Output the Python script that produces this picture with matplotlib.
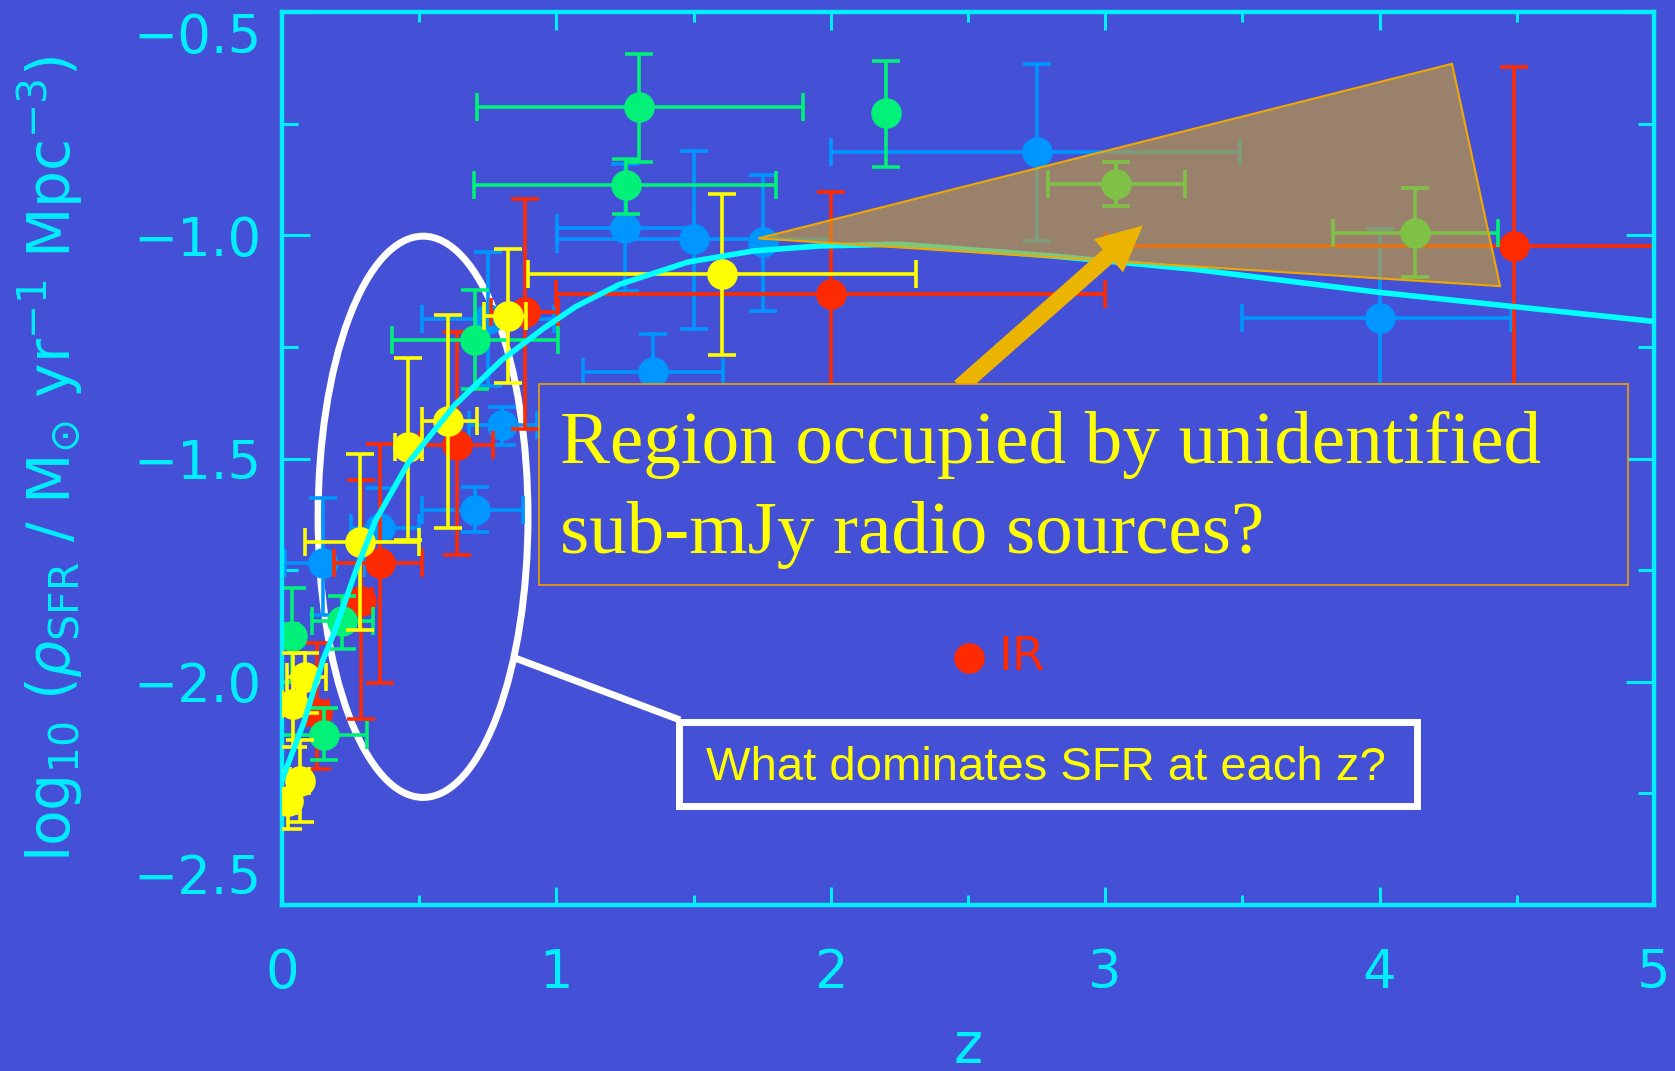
import matplotlib
matplotlib.use('Agg')
import matplotlib.pyplot as plt
from matplotlib.patches import Polygon, Ellipse, Rectangle, FancyArrowPatch, ArrowStyle
from matplotlib.lines import Line2D
import numpy as np

plt.rcParams['mathtext.fontset'] = 'dejavusans'

BG = '#4450D6'
AXC = '#00EEFF'
CURVE_C = '#00FFFF'
RED = '#FF2A00'
GREEN = '#00F078'
BLUE = '#0096FF'
YELLOW = '#FFFF00'

# ---------------- data ----------------
red_z = [0.126, 0.288, 0.357, 0.637, 0.886, 2.000, 4.490]
red_y = [-2.070, -1.820, -1.734, -1.469, -1.173, -1.132, -1.025]
red_zlo = [0.086, 0.248, 0.190, 0.503, 0.760, 1.000, 3.000]
red_zhi = [0.166, 0.328, 0.510, 0.770, 1.006, 3.000, 5.980]
red_ylo = [-2.196, -2.084, -2.002, -1.717, -1.435, -1.360, -1.430]
red_yhi = [-1.913, -1.548, -1.467, -1.217, -0.918, -0.904, -0.623]

green_z = [0.035, 0.152, 0.218, 0.703, 1.254, 1.300, 2.200, 3.040, 4.130]
green_y = [-1.898, -2.120, -1.865, -1.234, -0.888, -0.713, -0.727, -0.886, -0.994]
green_zlo = [0.010, 0.000, 0.108, 0.402, 0.700, 0.710, 2.200, 2.790, 3.830]
green_zhi = [0.060, 0.310, 0.330, 1.005, 1.800, 1.900, 2.200, 3.290, 4.430]
green_ylo = [-2.000, -2.176, -1.926, -1.344, -0.953, -0.835, -0.848, -0.935, -1.094]
green_yhi = [-1.789, -2.058, -1.808, -1.123, -0.830, -0.594, -0.609, -0.836, -0.895]

blue_z = [0.150, 0.357, 0.703, 0.752, 0.800, 1.250, 1.353, 1.500, 1.754, 2.750, 4.000]
blue_y = [-1.735, -1.656, -1.615, -1.188, -1.425, -0.983, -1.307, -1.009, -1.016, -0.8125, -1.185]
blue_zlo = [0.010, 0.250, 0.509, 0.509, 0.680, 1.003, 1.098, 1.003, 1.754, 2.000, 3.500]
blue_zhi = [0.300, 0.500, 0.878, 0.990, 0.930, 1.500, 1.606, 2.000, 1.754, 3.490, 4.480]
blue_ylo = [-1.850, -1.720, -1.665, -1.337, -1.470, -1.124, -1.500, -1.210, -1.169, -1.013, -1.500]
blue_yhi = [-1.589, -1.567, -1.563, -1.038, -1.384, -0.840, -1.221, -0.812, -0.866, -0.616, -0.987]

yellow_z = [0.023, 0.066, 0.040, 0.085, 0.284, 0.460, 0.606, 0.825, 1.602]
yellow_y = [-2.266, -2.222, -2.050, -1.990, -1.686, -1.474, -1.417, -1.181, -1.087]
yellow_zlo = [0.000, 0.030, 0.000, 0.020, 0.084, 0.410, 0.509, 0.737, 0.898]
yellow_zhi = [0.050, 0.100, 0.080, 0.160, 0.500, 0.510, 0.709, 0.888, 2.310]
yellow_ylo = [-2.330, -2.315, -2.147, -2.070, -1.885, -1.682, -1.655, -1.330, -1.268]
yellow_yhi = [-2.200, -2.130, -1.935, -1.935, -1.491, -1.275, -1.179, -1.031, -0.908]

curve_z = [0.00, 0.08, 0.15, 0.19, 0.27, 0.34, 0.46, 0.63, 0.80, 0.95, 1.07,
           1.23, 1.48, 1.72, 1.96, 2.25, 2.80, 3.32, 4.00, 5.00]
curve_y = [-2.22, -2.09, -1.95, -1.89, -1.75, -1.64, -1.51, -1.38, -1.28, -1.21, -1.16,
           -1.11, -1.06, -1.035, -1.024, -1.020, -1.046, -1.076, -1.128, -1.193]

region_z = [1.736, 4.264, 4.439]
region_y = [-1.007, -0.616, -1.114]

ir_legend_z = [2.502]
ir_legend_y = [-1.946]

xtick_vals = [0, 1, 2, 3, 4, 5]
xtick_labels = ['0', '1', '2', '3', '4', '5']
ytick_vals = [-2.5, -2.0, -1.5, -1.0, -0.5]
ytick_labels = ['\u22122.5', '\u22122.0', '\u22121.5', '\u22121.0', '\u22120.5']

# ---------------- figure ----------------
W, H = 1675, 1071
fig = plt.figure(figsize=(W / 100, H / 100), dpi=100, facecolor=BG)
ax = fig.add_axes([282 / W, 1 - 905 / H, (1654 - 282) / W, (905 - 12) / H])
ax.set_facecolor(BG)
ax.set_xlim(0, 5)
ax.set_ylim(-2.5, -0.5)

for s in ax.spines.values():
    s.set_color(AXC)
    s.set_linewidth(3.2)

ax.set_xticks(xtick_vals, xtick_labels)
ax.set_yticks(ytick_vals, ytick_labels)
ax.set_xticks(np.arange(0.5, 5, 1.0), minor=True)
ax.set_yticks(np.arange(-2.25, -0.5, 0.5), minor=True)
ax.tick_params(which='both', direction='in', top=True, right=True,
               color=AXC, labelcolor=AXC, width=2.2)
ax.tick_params(axis='x', which='major', length=13, pad=30, labelsize=38)
ax.tick_params(axis='x', which='minor', length=7.2)
ax.tick_params(axis='y', which='major', length=20.5, pad=15, labelsize=38)
ax.tick_params(axis='y', which='minor', length=11.5)
ylabs = ax.get_yticklabels()
ylabs[-1].set_va('top')
ylabs[0].set_va('bottom')

ax.set_xlabel('z', color=AXC, fontsize=40, va='baseline')
ax.xaxis.set_label_coords(0.5, -0.176)
ax.set_ylabel(r'$\mathrm{log}_{10}\ (\rho_{\mathrm{SFR}}\ /\ \mathrm{M}_{\odot}\ '
              r'\mathrm{yr}^{-1}\ \mathrm{Mpc}^{-3})$', color=AXC, fontsize=42, va='center')
ax.yaxis.set_label_coords(-0.169, 0.5)

# white ellipse (below the data)
ax.add_patch(Ellipse((0.514, -1.6306), 0.765, 1.257, fill=False, ec='white', lw=5, zorder=1.5))


def series(z, y, zlo, zhi, ylo, yhi, color, zo):
    z = np.array(z); y = np.array(y)
    xerr = [z - np.array(zlo), np.array(zhi) - z]
    yerr = [y - np.array(ylo), np.array(yhi) - y]
    ax.errorbar(z, y, xerr=xerr, yerr=yerr, fmt='o', color=color, mec=color, mfc=color,
                ms=21, elinewidth=2.6, capsize=10, capthick=2.6, zorder=zo)


series(blue_z, blue_y, blue_zlo, blue_zhi, blue_ylo, blue_yhi, BLUE, 2)
series(red_z, red_y, red_zlo, red_zhi, red_ylo, red_yhi, RED, 2.2)
series(green_z, green_y, green_zlo, green_zhi, green_ylo, green_yhi, GREEN, 2.4)
series(yellow_z, yellow_y, yellow_zlo, yellow_zhi, yellow_ylo, yellow_yhi, YELLOW, 2.6)

ax.plot(curve_z, curve_y, color=CURVE_C, lw=4, zorder=3, solid_joinstyle='round')

# shaded region
ax.add_patch(Polygon(np.column_stack([region_z, region_y]), closed=True,
                     fc=(0.83, 0.64, 0.15, 0.6), ec='#F0A800', lw=1.5, zorder=4))

# arrow
arr = FancyArrowPatch((2.47, -1.34), (3.137, -0.978),
                      arrowstyle=ArrowStyle.Simple(head_length=33, head_width=32, tail_width=12),
                      mutation_scale=1, fc='#EBB400', ec='none', shrinkA=0, shrinkB=0, zorder=5)
ax.add_patch(arr)

# text box 1
ax.add_patch(Rectangle((0.1873, 0.3583), 0.981 - 0.1873, 0.5834 - 0.3583, transform=ax.transAxes,
                       fc=BG, ec='#F0A000', lw=1.2, zorder=10))
serif = ['Liberation Serif', 'DejaVu Serif']
ax.text(0.2026, 0.495, 'Region occupied by unidentified', transform=ax.transAxes,
        color=YELLOW, fontsize=54, family=serif, va='baseline', ha='left', zorder=11)
ax.text(0.2026, 0.394, 'sub-mJy radio sources?', transform=ax.transAxes,
        color=YELLOW, fontsize=54, family=serif, va='baseline', ha='left', zorder=11)

# connector + box 2
ax.add_line(Line2D([0.1698, 0.2901], [0.2766, 0.2072], transform=ax.transAxes,
                   color='white', lw=5, zorder=10, solid_capstyle='butt'))
ax.add_patch(Rectangle((0.2897, 0.1109), 0.8275 - 0.2897, 0.2049 - 0.1109, transform=ax.transAxes,
                       fc=BG, ec='white', lw=5, zorder=10))
ax.text(0.5569, 0.14, 'What dominates SFR at each z?', transform=ax.transAxes,
        color=YELLOW, fontsize=34, family=['Liberation Sans', 'DejaVu Sans'],
        va='baseline', ha='center', zorder=11)

# IR legend
ax.plot(ir_legend_z, ir_legend_y, 'o', color=RED, ms=21, zorder=11)
ax.text(2.611, ir_legend_y[0], 'IR', color=RED, fontsize=34, va='center', ha='left', zorder=11)

fig.savefig('out.png', dpi=100, facecolor=BG)
